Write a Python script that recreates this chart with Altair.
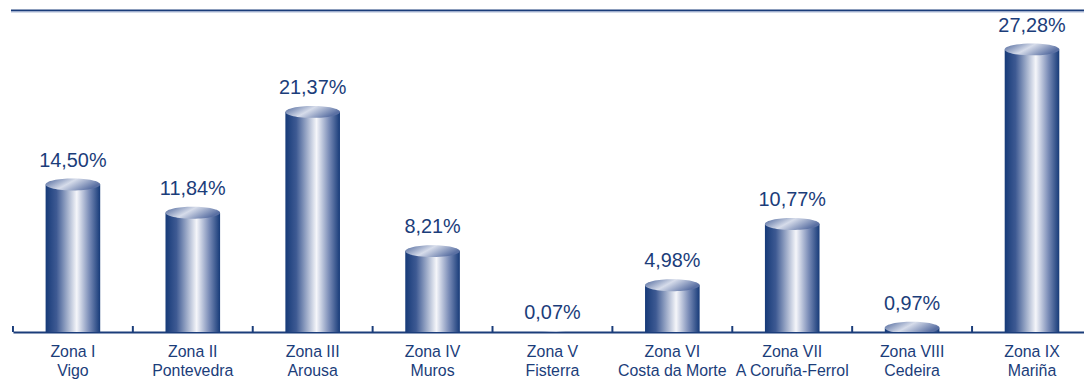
import altair as alt
import pandas as pd

zonas = ["Zona I", "Zona II", "Zona III", "Zona IV", "Zona V",
         "Zona VI", "Zona VII", "Zona VIII", "Zona IX"]
lugares = ["Vigo", "Pontevedra", "Arousa", "Muros", "Fisterra",
           "Costa da Morte", "A Coruña-Ferrol", "Cedeira", "Mariña"]
valores = [14.50, 11.84, 21.37, 8.21, 0.07, 4.98, 10.77, 0.97, 27.28]

df = pd.DataFrame({"zona": zonas, "lugar": lugares, "valor": valores})
df["cat"] = df["zona"] + "|" + df["lugar"]
order = list(df["cat"])

NAVY = "#1b3d7a"
W, H = 1079, 325

x_scale = alt.Scale(domain=order, range=[0, 1087], paddingInner=0, paddingOuter=0)
y_scale = alt.Scale(domain=[0, 30.5], nice=False, zero=True)

axis_def = alt.Axis(
    title=None, labelExpr="split(datum.value, '|')",
    labelFont="Liberation Sans Narrow, Arial Narrow, Liberation Sans, Arial, sans-serif",
    labelFontSize=16, labelColor=NAVY,
    labelLineHeight=18.5, labelPadding=12, labelAngle=0, labelBaseline="top",
    ticks=False, grid=False, domainColor=NAVY, domainWidth=2,
)

x_enc = alt.X("cat:N", scale=x_scale, sort=order, axis=axis_def)
y_enc = alt.Y("valor:Q", scale=y_scale, axis=None)

bar_grad = alt.Gradient(
    gradient="linear", x1=0, x2=1, y1=0, y2=0,
    stops=[
        alt.GradientStop(offset=0.0, color="#163a78"),
        alt.GradientStop(offset=0.2, color="#3e5a93"),
        alt.GradientStop(offset=0.57, color="#f5f6fa"),
        alt.GradientStop(offset=0.8, color="#7a8cb7"),
        alt.GradientStop(offset=1.0, color="#163a78"),
    ],
)
top_grad = alt.Gradient(
    gradient="linear", x1=0, x2=1, y1=0, y2=0.4,
    stops=[
        alt.GradientStop(offset=0.0, color="#4a6399"),
        alt.GradientStop(offset=0.5, color="#d6dcea"),
        alt.GradientStop(offset=1.0, color="#5a70a3"),
    ],
)

ry = 12 / 55
k = ry * 0.5523
ellipse = (f"M-1,0 C-1,{-k:.4f} -0.5523,{-ry:.4f} 0,{-ry:.4f} "
           f"C0.5523,{-ry:.4f} 1,{-k:.4f} 1,0 "
           f"C1,{k:.4f} 0.5523,{ry:.4f} 0,{ry:.4f} "
           f"C-0.5523,{ry:.4f} -1,{k:.4f} -1,0 Z")

base = alt.Chart(df)

bars = base.mark_bar(size=55, fill=bar_grad, yOffset=6, clip=True).encode(
    x=x_enc, y=y_enc)

tops = base.mark_point(shape=ellipse, size=55 * 55, filled=True, fill=top_grad,
                       opacity=1, strokeWidth=0, yOffset=6, clip=True).encode(
    x=x_enc, y=y_enc)

labels = base.transform_calculate(
    lbl="replace(format(datum.valor, '.2f'), '.', ',') + '%'"
).mark_text(dy=-12, baseline="alphabetic",
            font="Liberation Sans, Arial, sans-serif",
            fontSize=20, color=NAVY).encode(x=x_enc, y=y_enc, text="lbl:N")

ticks = base.mark_rule(color=NAVY, strokeWidth=2).encode(
    x=alt.X("cat:N", scale=x_scale, sort=order, axis=axis_def, bandPosition=0),
    y=alt.value(H - 6), y2=alt.value(H))

topline = alt.Chart(pd.DataFrame({"a": [0]})).mark_rule(
    color=NAVY, strokeWidth=2).encode(
    x=alt.value(-2), x2=alt.value(W), y=alt.value(1))
topline2 = alt.Chart(pd.DataFrame({"a": [0]})).mark_rule(
    color="#8a9dc4", strokeWidth=1).encode(
    x=alt.value(-2), x2=alt.value(W), y=alt.value(2.5))

chart = alt.layer(bars, tops, labels, ticks, topline, topline2).properties(
    width=W, height=H,
    padding={"left": 5, "top": 0, "right": 0, "bottom": 49},
    autosize=alt.AutoSizeParams(type="none"),
).configure_view(stroke=None)

chart.save("out.html", embed_options={"renderer": "svg", "actions": False})
